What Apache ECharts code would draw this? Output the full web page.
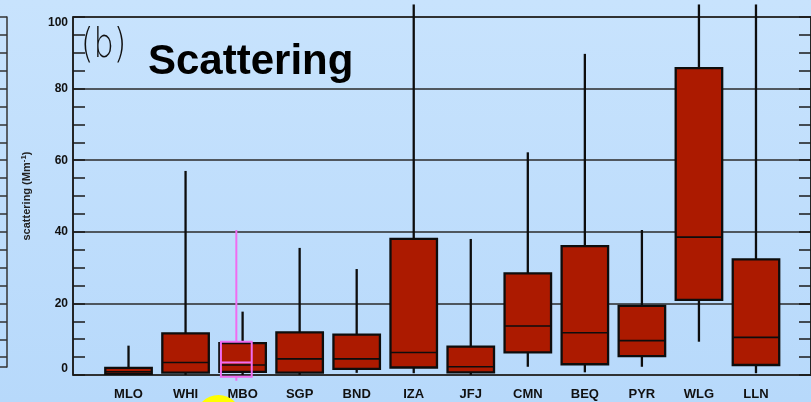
<!DOCTYPE html>
<html>
<head>
<meta charset="utf-8">
<script src="https://cdn.jsdelivr.net/npm/echarts@6/dist/echarts.min.js"></script>
<style>
  html, body { margin: 0; padding: 0; background: #c2dffc; }
  #chart { width: 811px; height: 402px; }
</style>
</head>
<body>
<div id="chart"></div>
<script>
// Aerosol light scattering (Mm^-1) per station: box-and-whisker statistics
const stations    = ['MLO', 'WHI', 'MBO', 'SGP', 'BND', 'IZA', 'JFJ', 'CMN', 'BEQ', 'PYR', 'WLG', 'LLN'];
const whiskerLow  = [0.3, 0,    0,    0,    0.6,  0.5,   0,    2.3,  0.75, 2.3,  9.3,   0.5];
const quartile1   = [0.3, 0.65, 0.9,  0.65, 1.7,  2.1,   0.75, 6.3,  3.0,  5.3,  21.0,  2.8];
const medians     = [0.9, 3.5,  2.8,  4.5,  4.5,  6.3,   2.3,  13.7, 11.8, 9.6,  38.5,  10.5];
const quartile3   = [2.0, 11.6, 8.9,  11.9, 11.3, 38.0,  7.9,  28.4, 36.0, 19.3, 85.7,  32.3];
const whiskerHigh = [8.2, 57.0, 17.7, 35.5, 29.6, 103.5, 38.0, 62.2, 89.7, 40.5, 103.5, 103.5];

// Second MBO record shown as an outlined box: low, q1, median, q3, high
const overlayStation = 'MBO';
const overlayStats   = [-1.6, -0.5, 3.5, 9.3, 40.5];

// Value axis ticks
const yMin = 0, yMax = 100, yStep = 20;

const boxData = stations.map((s, i) =>
  [i, whiskerLow[i], quartile1[i], medians[i], quartile3[i], whiskerHigh[i]]);
const overlayData = [[stations.indexOf(overlayStation)].concat(overlayStats)];

function boxRenderer(widthFrac, offsetFrac, fill, stroke, lineW, medW) {
  return function (params, api) {
    const i = api.value(0);
    const band = api.size([1, 0])[0];
    const cx = api.coord([i, 0])[0] + band * offsetFrac;
    const w = band * widthFrac;
    const y = k => api.coord([i, api.value(k)])[1];
    const yLo = y(1), yQ1 = y(2), yMed = y(3), yQ3 = y(4), yHi = y(5);
    return {
      type: 'group',
      children: [
        { type: 'line', shape: { x1: cx, y1: yQ1, x2: cx, y2: yLo }, style: { stroke: stroke, lineWidth: lineW } },
        { type: 'line', shape: { x1: cx, y1: yQ3, x2: cx, y2: yHi }, style: { stroke: stroke, lineWidth: lineW } },
        { type: 'rect', shape: { x: cx - w / 2, y: yQ3, width: w, height: yQ1 - yQ3 },
          style: { fill: fill, stroke: stroke, lineWidth: lineW } },
        { type: 'line', shape: { x1: cx - w / 2, y1: yMed, x2: cx + w / 2, y2: yMed },
          style: { stroke: stroke, lineWidth: medW } }
      ]
    };
  };
}

const chart = echarts.init(document.getElementById('chart'));
const ink = '#1a1a1a';
const sans = '"Liberation Sans", Arial, sans-serif';

chart.setOption({
  backgroundColor: new echarts.graphic.LinearGradient(0, 0, 0, 1, [
    { offset: 0, color: '#c8e3fd' },
    { offset: 1, color: '#b7d9fb' }
  ]),
  animation: false,
  grid: [
    // panel frame with gridlines
    { left: 73, right: -3, top: 17, bottom: 27, show: true, borderColor: ink, borderWidth: 1.5,
      backgroundColor: 'transparent' },
    // station bands
    { left: 100, right: 26.5, top: 17, bottom: 27 },
    // edge of the neighbouring panel
    { left: -100, right: 804, top: 17, bottom: 35 }
  ],
  xAxis: [
    { type: 'value', gridIndex: 0, min: 0, max: 1, show: false },
    { type: 'category', gridIndex: 1, data: stations,
      axisLine: { show: false }, axisTick: { show: false }, splitLine: { show: false },
      axisLabel: { margin: 13, fontSize: 13, fontWeight: 'bold', color: '#111', fontFamily: sans } },
    { type: 'value', gridIndex: 2, min: 0, max: 1, show: false }
  ],
  yAxis: [
    { type: 'value', gridIndex: 0, min: yMin, max: yMax, interval: yStep, position: 'left',
      name: '{a|scattering (Mm}{s|-1}{a|)}', nameLocation: 'middle', nameGap: 39,
      nameTextStyle: { rich: {
        a: { fontSize: 11, fontWeight: 'bold', color: '#222', fontFamily: sans },
        s: { fontSize: 8, fontWeight: 'bold', color: '#222', verticalAlign: 'top', padding: [0, 0, 6, 0],
             fontFamily: sans } } },
      axisLine: { show: true, lineStyle: { color: ink, width: 1.5 } },
      axisTick: { show: true, inside: true, length: 12, lineStyle: { color: ink, width: 1.5 } },
      minorTick: { show: true, splitNumber: 4, length: 12, lineStyle: { color: ink, width: 1.5 } },
      splitLine: { show: true, lineStyle: { color: '#2a2a2a', width: 1.5 } },
      axisLabel: { margin: 5, fontSize: 12, fontWeight: 'bold', color: '#111', fontFamily: sans,
        verticalAlignMinLabel: 'bottom', verticalAlignMaxLabel: 'top' } },
    { type: 'value', gridIndex: 0, min: yMin, max: yMax, interval: yStep, position: 'right',
      axisLine: { show: true, lineStyle: { color: ink, width: 1.5 } },
      axisTick: { show: true, inside: true, length: 12, lineStyle: { color: ink, width: 1.5 } },
      minorTick: { show: true, splitNumber: 4, length: 12, lineStyle: { color: ink, width: 1.5 } },
      splitLine: { show: false }, axisLabel: { show: false } },
    { type: 'value', gridIndex: 1, min: yMin, max: yMax, show: false },
    { type: 'value', gridIndex: 2, min: 0, max: 19.55, interval: 1, inverse: true, position: 'right',
      axisLine: { show: true, lineStyle: { color: '#333', width: 1.5 } },
      axisTick: { show: true, inside: true, length: 10, lineStyle: { color: '#333', width: 1.5 } },
      splitLine: { show: false }, axisLabel: { show: false } }
  ],
  series: [
    { type: 'custom', name: 'scattering', xAxisIndex: 1, yAxisIndex: 2, data: boxData,
      encode: { x: 0, y: [1, 2, 3, 4, 5] }, clip: false, z: 3,
      renderItem: boxRenderer(0.815, 0, '#ac1a00', '#0d0d0d', 2.3, 1.6) },
    { type: 'custom', name: 'scattering MBO', xAxisIndex: 1, yAxisIndex: 2, data: overlayData,
      encode: { x: 0, y: [1, 2, 3, 4, 5] }, clip: false, z: 4,
      renderItem: boxRenderer(0.54, -0.11, 'transparent', '#f06cf0', 2, 2) }
  ],
  graphic: [
    { type: 'text', x: 81, y: 27, z: 10, scaleX: 0.8,
      style: { text: '(b)', fontSize: 40, fontWeight: 200, fill: '#111', verticalAlign: 'top',
        fontFamily: '"DejaVu Sans ExtraLight", "DejaVu Sans", sans-serif' } },
    { type: 'text', x: 148, y: 41, z: 10,
      style: { text: 'Scattering', fontSize: 42, fontWeight: 'bold', fill: '#000',
        fontFamily: sans, verticalAlign: 'top' } },
    { type: 'circle', shape: { cx: 218.5, cy: 418, r: 23 }, style: { fill: '#ffff00' }, z: 10 }
  ]
});
</script>
</body>
</html>
